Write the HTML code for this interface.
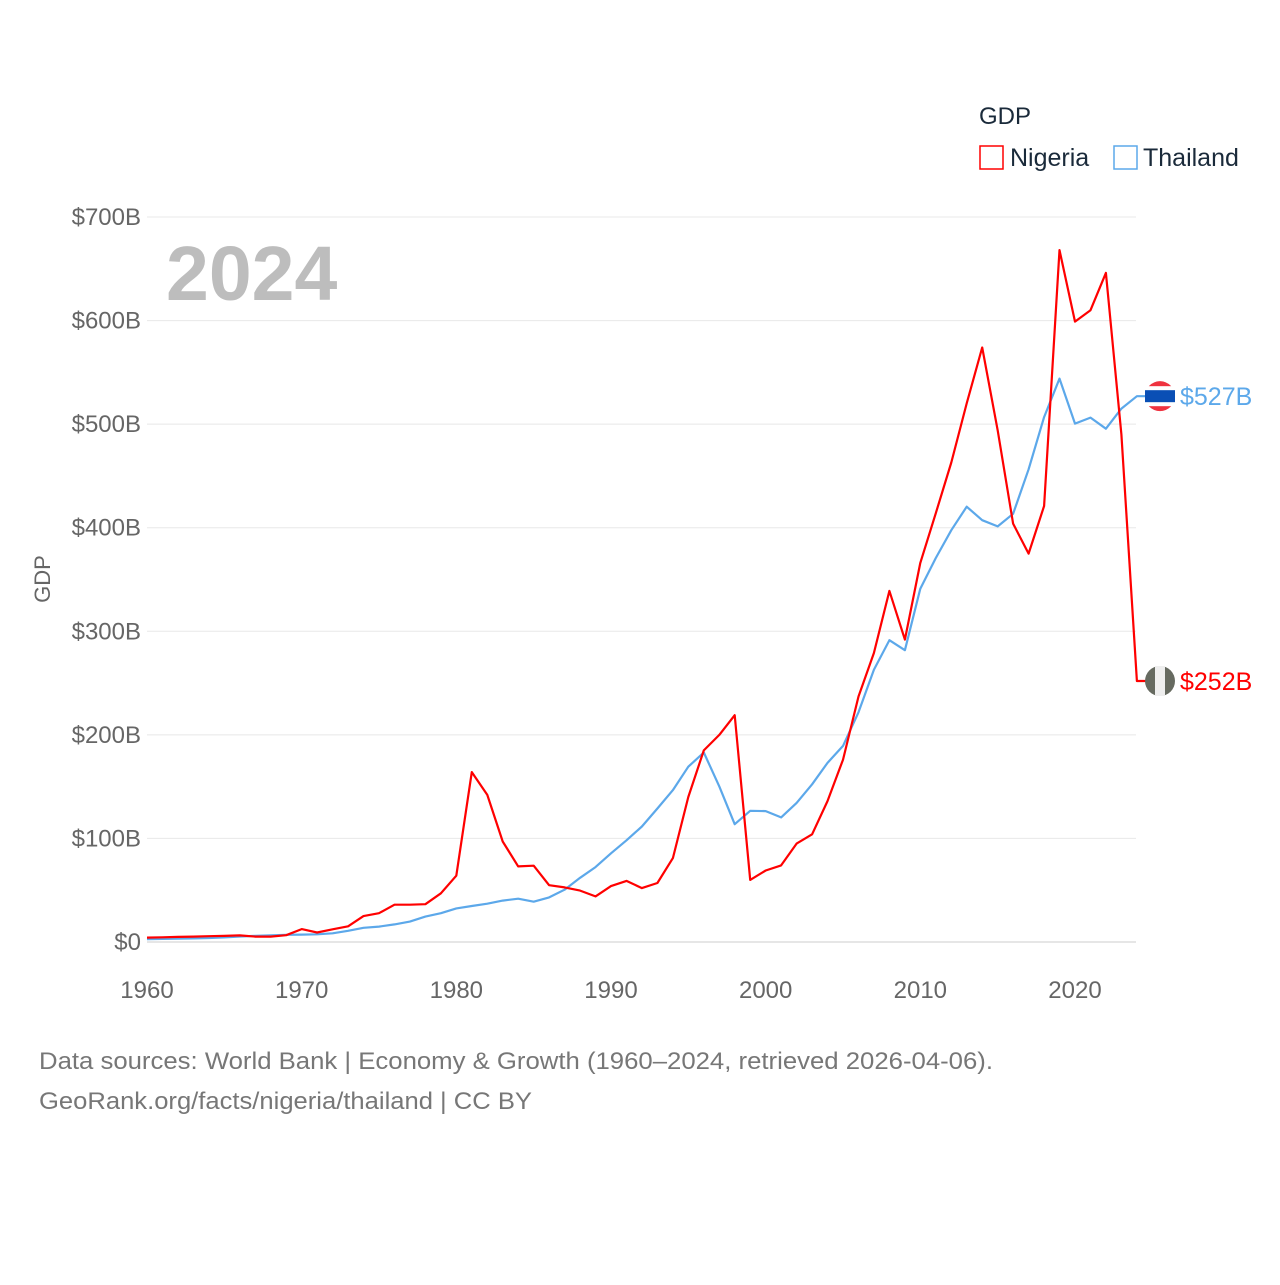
<!DOCTYPE html>
<html><head><meta charset="utf-8"><style>
body{margin:0;background:#fff;font-family:"Liberation Sans",sans-serif}
svg text{font-family:"Liberation Sans",sans-serif}
</style></head><body>
<svg id="chart" width="1280" height="1280" viewBox="0 0 1280 1280" xmlns="http://www.w3.org/2000/svg">
<rect width="1280" height="1280" fill="#fff"/>
<g id="grid"></g><g id="yticks"></g><g id="xticks"></g>
<text x="166" y="300" font-size="77" font-weight="bold" fill="#bdbdbd">2024</text>
<text transform="translate(50,579) rotate(-90)" text-anchor="middle" font-size="22" fill="#666">GDP</text>
<g>
<text x="979" y="124" font-size="24" fill="#1a2a3a">GDP</text>
<g><rect x="980" y="146" width="23" height="23" fill="none" stroke="#f00" stroke-width="1.5"/><text x="1010" y="166" font-size="25" fill="#1a2a3a">Nigeria</text></g>
<g><rect x="1114" y="146" width="23" height="23" fill="none" stroke="#5ca8ea" stroke-width="1.5"/><text x="1143" y="166" font-size="25" fill="#1a2a3a">Thailand</text></g>
</g>
<g id="lines"></g>
<g id="ends"></g>
<text x="39" y="1069" font-size="24" fill="#777" textLength="954" lengthAdjust="spacingAndGlyphs">Data sources: World Bank | Economy &amp; Growth (1960–2024, retrieved 2026-04-06).</text>
<text x="39" y="1109" font-size="24" fill="#777" textLength="493" lengthAdjust="spacingAndGlyphs">GeoRank.org/facts/nigeria/thailand | CC BY</text>
</svg>
<script>
const startYear = 1960;
const nigeria = [4.2,4.5,4.9,5.2,5.6,5.9,6.4,5.2,5.2,6.6,12.5,9.2,12.3,15.2,25,27.8,36,36,36.5,47,64,164,142,97,73,73.7,54.8,52.7,49.6,44,54,59,52,57,81,140,185,200,219,60,69,74,95,104,136,176,237,279,339,292,366,414,463,520,574,494,404,375,421,668,599,610,646,490,252];
const thailand = [2.8,3.0,3.3,3.5,3.9,4.4,5.3,5.9,6.4,7.0,7.1,7.4,8.4,10.8,13.7,14.9,17,19.7,24.5,27.8,32.4,34.8,37,40,41.8,38.9,43.1,50.5,62,72.3,85.6,98.2,111.5,128.9,146.7,169.3,183,150.2,113.7,126.7,126.4,120.3,134.3,152.3,172.9,189.3,221.8,262.9,291.4,281.7,341.1,370.8,397.6,420.3,407.3,401.3,413.4,456.4,506.8,544,500.5,506.3,495.6,515,527];
const yTicks = [0,100,200,300,400,500,600,700];
const yTickLabels = ["$0","$100B","$200B","$300B","$400B","$500B","$600B","$700B"];
const xTicks = [1960,1970,1980,1990,2000,2010,2020];
const NS="http://www.w3.org/2000/svg";
const X = yr => 147 + (yr-1960)*(928/60);
const Y = v => 942 - v*(725/700);
function mk(t,a,p){const e=document.createElementNS(NS,t);for(const k in a)e.setAttribute(k,a[k]);p.appendChild(e);return e;}
const grid=document.getElementById('grid'), yt=document.getElementById('yticks'), xt=document.getElementById('xticks');
yTicks.forEach((v,i)=>{
  const l=mk('line',{x1:147,x2:1136,y1:Y(v),y2:Y(v),stroke:v===0?'#ddd':'#e8e8e8','stroke-width':v===0?1.5:1},grid);
  
  
  const t=mk('text',{x:141,y:Y(v)+8,'text-anchor':'end','font-size':24,fill:'#666'},yt);
  t.textContent=yTickLabels[i];
  
  
});
xTicks.forEach(yr=>{
  const t=mk('text',{x:X(yr),y:998,'text-anchor':'middle','font-size':24,fill:'#666'},xt);
  t.textContent=yr;
  
  
});
const lines=document.getElementById('lines');
function series(data,color,name){
  const d=data.map((v,i)=>(i?'L':'M')+X(startYear+i).toFixed(1)+','+Y(v).toFixed(1)).join(' ')+' L'+(X(startYear+data.length-1)+10).toFixed(1)+','+Y(data[data.length-1]).toFixed(1);
  const p=mk('path',{d:d,fill:'none',stroke:color,'stroke-width':2.2,'stroke-linejoin':'round'},lines);
  
  
}
series(thailand,'#5ca8ea','thailand-line');
series(nigeria,'#f00','nigeria-line');
const ends=document.getElementById('ends');
function endLabel(data,color,name,flag){
  const v=data[data.length-1], y=Y(v);
  const g=mk('g',{},ends);
  
  
  const cx=1160;
  if(flag==='th'){
    mk('circle',{cx:cx,cy:y,r:15,fill:'#ef3340'},g);
    mk('rect',{x:cx-15,y:y-10,width:30,height:20,fill:'#fff'},g);
    mk('rect',{x:cx-15,y:y-6,width:30,height:12,fill:'#0a4fb5'},g);
  } else {
    mk('circle',{cx:cx,cy:y,r:15,fill:'#666a60'},g);
    mk('rect',{x:cx-5,y:y-15,width:10,height:30,fill:'#eee'},g);
  }
  const t=mk('text',{x:1180,y:y+9,'font-size':25,fill:color},g);
  t.textContent='$'+Math.round(v)+'B';
  
  
}
endLabel(thailand,'#5ca8ea','thailand','th');
endLabel(nigeria,'#f00','nigeria','ng');
</script>
</body></html>
